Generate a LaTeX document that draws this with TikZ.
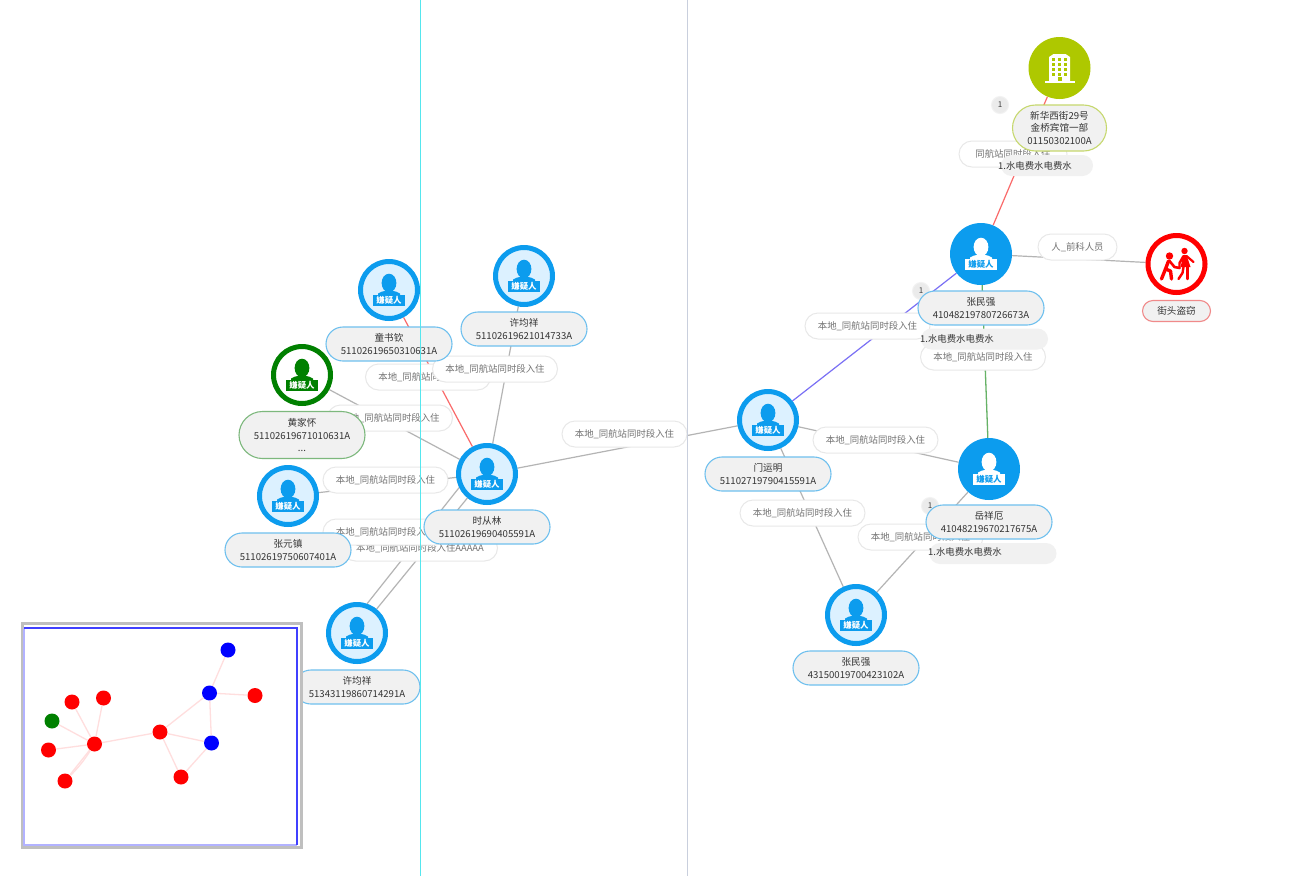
\documentclass[tikz,border=0pt]{standalone}
\usepackage{fontspec}
\setmainfont{Noto Sans CJK SC}
\usetikzlibrary{shapes.misc,shapes.geometric}
\definecolor{sky}{HTML}{0C9CEE}
\definecolor{skyfill}{HTML}{DCF1FF}
\definecolor{skyline}{HTML}{6FC0EE}
\definecolor{olive}{HTML}{AEC800}
\definecolor{oliveline}{HTML}{C6D86E}
\definecolor{greenline}{HTML}{7DB87D}
\definecolor{redline}{HTML}{F08A8A}
\definecolor{chipgray}{HTML}{F1F1F1}
\definecolor{grayedge}{HTML}{B4B4B4}
\definecolor{minilink}{HTML}{FFDEDE}
\definecolor{guidecyan}{HTML}{55E6EE}
\definecolor{guidegray}{HTML}{C9CFDD}
\definecolor{linkred}{HTML}{FA6A6A}
\definecolor{linkblue}{HTML}{7A70F5}
\definecolor{linkgreen}{HTML}{66B266}
\pgfdeclarelayer{edges}
\pgfdeclarelayer{elabels}
\pgfsetlayers{edges,elabels,main}
\tikzset{
  x=1pt,y=-1pt,
  ring/.style={circle,draw=#1,line width=5pt,minimum size=57pt,inner sep=0pt},
  solid disc/.style={circle,fill=#1,minimum size=62pt,inner sep=0pt},
  namebox/.style={rounded rectangle,draw=#1,line width=1.1pt,fill=chipgray,text=black!80,inner sep=0pt,
     align=center,font=\fontsize{9.6}{12.5}\selectfont,minimum height=34pt,minimum width=126pt},
  linkbox/.style={rounded rectangle,draw=black!9,line width=1pt,fill=white,text=black!55,inner sep=0pt,
     font=\fontsize{9.4}{11}\selectfont,minimum height=26pt,minimum width=125pt},
  tagbox/.style={rounded rectangle,fill=chipgray,inner sep=0pt,minimum height=21pt,minimum width=#1},
  tagtext/.style={text=black!80,inner sep=0pt,font=\fontsize{9.4}{11}\selectfont},
  countdot/.style={circle,fill=black!8,draw=black!5,line width=1pt,minimum size=17pt,inner sep=0pt,
     text=black!75,font=\fontsize{8}{9}\selectfont},
  badgetext/.style={inner sep=0pt,font=\fontsize{8.4}{9}\selectfont\bfseries},
  edgeg/.style={draw=grayedge,line width=1.2pt},
  minidot/.style={circle,fill=#1,minimum size=15pt,inner sep=0pt},
  minilk/.style={draw=minilink,line width=1.3pt},
}
% person icon: name, x, y, icon colour, badge text colour
\newcommand\personicon[5]{%
  \begin{scope}[shift={(#2,#3)}]
    \fill[#4] (0,-7) ellipse[x radius=7.4,y radius=9.3];
    \fill[#4] (-11,6) -- (-11,3.5) .. controls (-9,1.8) and (-6,1.5) .. (-3.5,0.8) -- (3.5,0.8) .. controls (6,1.5) and (9,1.8) .. (11,3.5) -- (11,6) -- cycle;
    \fill[#4] (-16,5) rectangle (16,16);
    \node[badgetext,text=#5] (#1badge) at (0,10.6) {嫌疑人};
  \end{scope}}
\newcommand\ringperson[5]{%
  \node[ring=#4,fill=#5] (#1) at (#2,#3) {};
  \personicon{#1}{#2}{#3}{#4}{white}}
\newcommand\solidperson[3]{%
  \node[solid disc=sky] (#1) at (#2,#3) {};
  \personicon{#1}{#2}{#3}{white}{sky}}
\begin{document}
\begin{tikzpicture}
\useasboundingbox (0,0) rectangle (1310,876);
\begin{pgfonlayer}{edges}
\fill[white] (0,0) rectangle (1310,876);
\end{pgfonlayer}

% person circles
\ringperson{tong}{389}{290}{sky}{skyfill}
\ringperson{xua}{524}{276}{sky}{skyfill}
\ringperson{huang}{302}{375}{green!50!black}{white}
\ringperson{shi}{487}{474}{sky}{skyfill}
\ringperson{zhangy}{288}{496}{sky}{skyfill}
\ringperson{xub}{357}{633}{sky}{skyfill}
\ringperson{men}{768}{420}{sky}{skyfill}
\ringperson{zhangb}{856}{615}{sky}{skyfill}
\solidperson{zhanga}{981}{254}
\solidperson{yue}{989}{469}

% building
\node[solid disc=olive] (hotel) at (1059.5,68) {};
\begin{scope}[shift={(1059.5,68)}]
  \fill[white] (-10.5,-11) -- (-6,-14) -- (6,-14) -- (10.5,-11) -- (10.5,14) -- (-10.5,14) -- cycle;
  \fill[white] (-15,13) rectangle (15,15);
  \foreach \cy in {-9,-4,1,6}{\foreach \cx in {-6,0,6}{\fill[olive] (\cx-1.7,\cy-1.5) rectangle (\cx+1.7,\cy+1.5);}}
  \fill[olive] (-2,9) rectangle (2,13);
\end{scope}

% red pictogram
\node[ring=red,fill=white] (theft) at (1176.5,264) {};
\begin{scope}[shift={(1176.5,264)},red]
  \fill (-7,-8) circle[radius=3.7];
  \fill (8,-13) circle[radius=3.2];
  \draw[line width=3.4pt,line cap=round,line join=round] (-8,-3) -- (-11,5) -- (-15,15);
  \draw[line width=3.4pt,line cap=round,line join=round] (-11,5) -- (-6,7) -- (-5,15);
  \draw[line width=2.6pt,line cap=round,line join=round] (-7,-3) -- (-2,3) -- (3,4);
  \fill (7,-9) -- (4,3) -- (14,3) -- (10,-9) -- cycle;
  \draw[line width=2.4pt,line cap=round,line join=round] (7,-8) -- (3,-1) -- (3,4);
  \draw[line width=2.2pt,line cap=round] (10,-8) -- (17,-2);
  \draw[line width=2.4pt,line cap=round,line join=round] (7,3) -- (6,9) -- (2,15);
  \draw[line width=2.4pt,line cap=round,line join=round] (11,3) -- (11,15);
\end{scope}

% count badges
\node[countdot] (cnta) at (1000,105) {1};
\node[countdot] (cntb) at (921,291) {1};
\node[countdot] (cntc) at (930,506) {1};

% name boxes
\node[namebox=skyline] (ltong) at (389,344) {童书钦\\51102619650310631A};
\node[namebox=skyline] (lxua) at (524,329) {许均祥\\51102619621014733A};
\node[namebox=greenline,minimum height=47pt] (lhuang) at (302,435) {黄家怀\\51102619671010631A\\...};
\node[namebox=skyline] (lshi) at (487,527) {时从林\\51102619690405591A};
\node[namebox=skyline] (lzhangy) at (288,550) {张元镇\\51102619750607401A};
\node[namebox=skyline] (lxub) at (357,687) {许均祥\\51343119860714291A};
\node[namebox=skyline] (lmen) at (768,474) {门运明\\51102719790415591A};
\node[namebox=skyline] (lzhanga) at (981,308) {张民强\\41048219780726673A};
\node[namebox=skyline] (lyue) at (989,522) {岳祥厄\\41048219670217675A};
\node[namebox=skyline] (lzhangb) at (856,668) {张民强\\43150019700423102A};
\node[namebox=oliveline,minimum width=94pt,minimum height=46pt] (lhotel) at (1059.5,128) {新华西街29号\\金桥宾馆一部\\01150302100A};
\node[namebox=redline,minimum width=68pt,minimum height=21pt] (ltheft) at (1176.5,311) {街头盗窃};

% connectors
\begin{pgfonlayer}{edges}
  \draw[draw=linkred,line width=1.2pt] (tong) -- (shi);
  \draw[edgeg] (xua) -- (shi);
  \draw[edgeg] (huang) -- (shi);
  \draw[edgeg] (zhangy) -- (shi);
  \draw[edgeg] (xub) -- (shi);
  \draw[edgeg] (xub.71) -- (shi.206);
  \draw[edgeg] (shi) -- (men);
  \draw[draw=linkblue,line width=1.2pt] (men) -- (zhanga);
  \draw[draw=linkred,line width=1.2pt] (zhanga) -- (hotel);
  \draw[draw=linkgreen,line width=1.3pt] (zhanga) -- (yue);
  \draw[edgeg] (zhanga) -- (theft);
  \draw[edgeg] (men) -- (yue);
  \draw[edgeg] (men) -- (zhangb);
  \draw[edgeg] (yue) -- (zhangb);
\end{pgfonlayer}

% connector labels and tags
\begin{pgfonlayer}{elabels}
  \node[linkbox] (ea) at (428,377) {本地\_同航站同时段入住};
  \node[linkbox] (eb) at (495,369) {本地\_同航站同时段入住};
  \node[linkbox] (ec) at (390,418) {本地\_同航站同时段入住};
  \node[linkbox] (ed) at (385.5,480) {本地\_同航站同时段入住};
  \node[linkbox,minimum width=155pt] (ef) at (420,548) {本地\_同航站同时段入住AAAAA};
  \node[linkbox] (ee) at (385.5,532) {本地\_同航站同时段入住};
  \node[linkbox] (eg) at (624.5,434) {本地\_同航站同时段入住};
  \node[linkbox] (eh) at (867.5,326) {本地\_同航站同时段入住};
  \node[linkbox] (ei) at (983,357) {本地\_同航站同时段入住};
  \node[linkbox] (ej) at (875.5,440) {本地\_同航站同时段入住};
  \node[linkbox] (ek) at (802.5,513) {本地\_同航站同时段入住};
  \node[linkbox] (el) at (920.5,537) {本地\_同航站同时段入住};
  \node[linkbox,minimum width=108pt] (em) at (1013,154) {同航站同时段入住};
  \node[linkbox,minimum width=79pt] (en) at (1077.5,247) {人\_前科人员};
  \node[tagbox=92pt] (ta) at (1047,165.5) {};
  \node[tagtext] (tat) at (1035,165.5) {1.水电费水电费水};
  \node[tagbox=127pt] (tb) at (984.5,339) {};
  \node[tagtext] (tbt) at (957,338.5) {1.水电费水电费水};
  \node[tagbox=127pt] (tc) at (993,553.5) {};
  \node[tagtext] (tct) at (965,552) {1.水电费水电费水};
\end{pgfonlayer}

% overview panel
\fill[white] (21,622) rectangle (303,849);
\draw[draw=black!25,line width=3pt] (22.5,623.5) rectangle (301.5,847.5);
\draw[draw=blue!30!white,line width=1.6pt] (297,845) -- (24,845) -- (24,628);
\draw[draw=blue!75!white,line width=1.6pt] (24,628) -- (297,628) -- (297,845);
\node[minidot=blue] (ma) at (228,650) {};
\node[minidot=blue] (mb) at (209.5,693) {};
\node[minidot=red] (mc) at (255,695.5) {};
\node[minidot=blue] (md) at (211.5,743) {};
\node[minidot=red] (me) at (160,732) {};
\node[minidot=red] (mf) at (181,777) {};
\node[minidot=red] (mg) at (94.5,744) {};
\node[minidot=red] (mh) at (72,702) {};
\node[minidot=red] (mi) at (103.5,698) {};
\node[minidot=green!50!black] (mj) at (52,721) {};
\node[minidot=red] (mk) at (48.5,750) {};
\node[minidot=red] (ml) at (65,781) {};
\foreach \p/\q in {ma/mb,mb/mc,mb/md,mb/me,me/md,me/mf,mf/md,me/mg,mg/mh,mg/mi,mg/mj,mg/mk,mg/ml}{\draw[minilk] (\p) -- (\q);}
\draw[minilk] (mg) to[bend left=6] (ml);

% vertical guides
\draw[draw=guidecyan,line width=1pt] (420.5,0) -- (420.5,876);
\draw[draw=guidegray,line width=1pt] (687.5,0) -- (687.5,876);
\end{tikzpicture}
\end{document}
